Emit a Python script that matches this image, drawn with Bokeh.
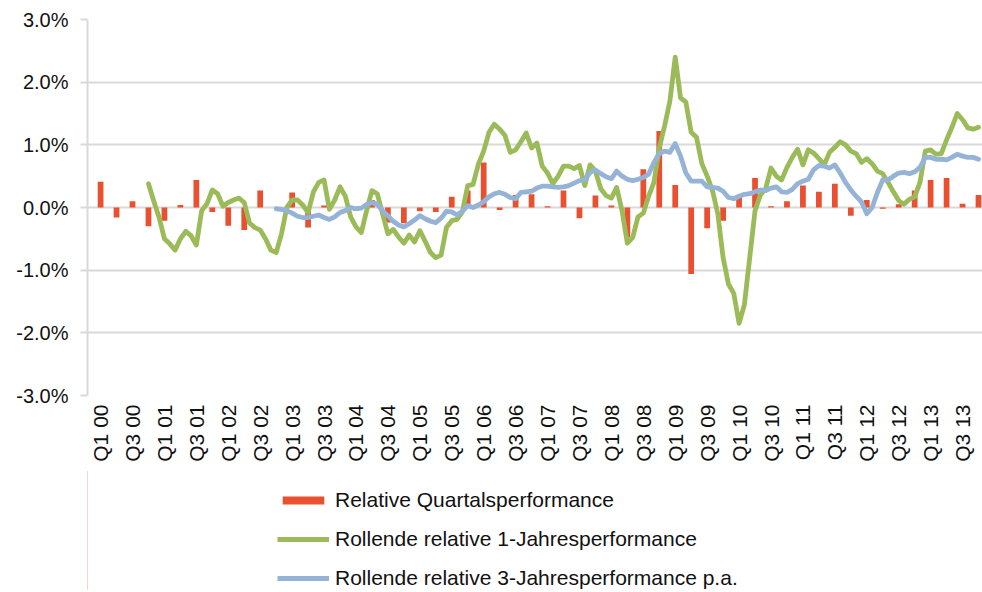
import math
from bokeh.plotting import figure
from bokeh.layouts import column
from bokeh.models import (FixedTicker, Legend, LegendItem, Range1d)
from bokeh.embed import file_html
from bokeh.resources import INLINE

# ---------------- data ----------------
years = ["00", "01", "02", "03", "04", "05", "06", "07", "08", "09", "10", "11", "12", "13"]
quarters = [f"Q{q} {y}" for y in years for q in (1, 2, 3, 4)]

# relative quarterly performance (%)
quarter_perf = [
    0.41, -0.16, 0.10, -0.30,
    -0.21, 0.04, 0.44, -0.07,
    -0.29, -0.36, 0.27, 0.00,
    0.24, -0.32, 0.03, 0.00,
    -0.05, 0.12, -0.24, -0.25,
    -0.06, -0.07, 0.17, 0.27,
    0.72, -0.04, 0.20, 0.21,
    0.02, 0.27, -0.17, 0.19,
    0.03, -0.48, 0.61, 1.22,
    0.36, -1.06, -0.33, -0.21,
    0.16, 0.47, 0.02, 0.10,
    0.35, 0.25, 0.38, -0.13,
    0.12, -0.02, 0.05, 0.27,
    0.44, 0.47, 0.06, 0.20,
]

# rolling relative 1-year performance (%), monthly, starting Q4 00
rolling_1y = [
    0.38, 0.10, -0.16, -0.50, -0.58, -0.68, -0.50, -0.38, -0.45, -0.60,
    -0.05, 0.06, 0.28, 0.22, 0.02, 0.08, 0.12, 0.15, 0.08, -0.25,
    -0.32, -0.36, -0.50, -0.68, -0.72, -0.42, 0.00, 0.12, 0.12, 0.04,
    -0.08, 0.25, 0.40, 0.44, -0.03, 0.12, 0.33, 0.18, -0.15, -0.31,
    -0.40, -0.05, 0.27, 0.22, -0.10, -0.42, -0.35, -0.47, -0.57, -0.44,
    -0.55, -0.37, -0.54, -0.72, -0.80, -0.76, -0.32, -0.21, -0.19, -0.07,
    0.35, 0.37, 0.69, 0.90, 1.20, 1.33, 1.25, 1.15, 0.88, 0.92,
    1.05, 1.19, 0.95, 1.03, 0.66, 0.55, 0.38, 0.50, 0.66, 0.66,
    0.62, 0.67, 0.35, 0.68, 0.58, 0.30, 0.19, 0.15, 0.32, -0.05,
    -0.57, -0.48, -0.15, -0.09, 0.18, 0.40, 0.95, 1.30, 1.70, 2.40,
    1.75, 1.68, 1.20, 1.12, 0.70, 0.50, 0.27, -0.10, -0.80, -1.22,
    -1.37, -1.85, -1.55, -0.80, -0.05, 0.20, 0.30, 0.63, 0.50, 0.44,
    0.64, 0.80, 0.93, 0.68, 0.92, 0.87, 0.78, 0.68, 0.88, 0.96,
    1.05, 1.00, 0.90, 0.86, 0.72, 0.78, 0.70, 0.58, 0.54, 0.40,
    0.25, 0.11, 0.05, 0.13, 0.17, 0.40, 0.90, 0.92, 0.85, 0.86,
    1.08, 1.28, 1.50, 1.40, 1.27, 1.25, 1.28,
]

# rolling relative 3-year performance p.a. (%), monthly, starting Q4 02
rolling_3y = [
    -0.02, -0.03, -0.05, -0.09, -0.14, -0.16, -0.16, -0.14, -0.12, -0.16,
    -0.19, -0.15, -0.08, -0.05, 0.00, -0.02, -0.01, 0.05, 0.08, 0.05,
    -0.05, -0.13, -0.22, -0.28, -0.31, -0.26, -0.20, -0.13, -0.18, -0.22,
    -0.24, -0.17, -0.06, -0.07, -0.12, -0.06, 0.03, 0.00, 0.04, 0.09,
    0.17, 0.22, 0.24, 0.21, 0.16, 0.14, 0.24, 0.25, 0.26, 0.31,
    0.34, 0.34, 0.33, 0.32, 0.33, 0.35, 0.39, 0.43, 0.44, 0.56,
    0.60, 0.54, 0.49, 0.46, 0.58, 0.50, 0.45, 0.43, 0.45, 0.48,
    0.53, 0.72, 0.86, 0.90, 0.88, 1.02, 0.82, 0.55, 0.42, 0.42,
    0.42, 0.33, 0.32, 0.31, 0.26, 0.16, 0.14, 0.18, 0.21, 0.22,
    0.25, 0.28, 0.27, 0.31, 0.33, 0.25, 0.24, 0.29, 0.38, 0.42,
    0.45, 0.60, 0.67, 0.66, 0.63, 0.68, 0.55, 0.40, 0.28, 0.18,
    0.09, -0.10, 0.00, 0.24, 0.44, 0.44, 0.50, 0.55, 0.56, 0.54,
    0.57, 0.64, 0.80, 0.80, 0.77, 0.77, 0.76, 0.80, 0.85, 0.82,
    0.80, 0.80, 0.77,
]

series_names = ["Relative Quartalsperformance",
                "Rollende relative 1-Jahresperformance",
                "Rollende relative 3-Jahresperformance p.a."]

y_ticks = [-3, -2, -1, 0, 1, 2, 3]
y_tick_labels = ["-3.0%", "-2.0%", "-1.0%", "0.0%", "1.0%", "2.0%", "3.0%"]

start_1y_quarter = quarters.index("Q4 00")
start_3y_quarter = quarters.index("Q4 02")

# ---------------- positions ----------------
qx = list(range(len(quarters)))
x_1y = [start_1y_quarter + i / 3 for i in range(len(rolling_1y))]
x_3y = [start_3y_quarter + i / 3 for i in range(len(rolling_3y))]

FONT = "Liberation Sans"
RED = "#E9502F"
GREEN = "#9BBB59"
BLUE = "#95B3D7"
GRID = "#D9D9D9"
TXT = "#111111"
LW = 4.8

p = figure(width=982, height=470, output_backend="svg", toolbar_location=None,
           x_range=Range1d(-0.82, 55.25), y_range=Range1d(-3, 3),
           min_border_left=87, min_border_right=0, min_border_top=19,
           min_border_bottom=75)
p.outline_line_color = None
p.background_fill_color = "white"

bars = p.vbar(x=qx, top=quarter_perf, bottom=0, width=0.36,
              fill_color=RED, line_color=None)
g_line = p.line(x=x_1y, y=rolling_1y, line_color=GREEN, line_width=LW,
                line_join="round", line_cap="round")
b_line = p.line(x=x_3y, y=rolling_3y, line_color=BLUE, line_width=LW,
                line_join="round", line_cap="round")

# grid
p.xgrid.grid_line_color = None
p.ygrid.ticker = FixedTicker(ticks=y_ticks)
p.ygrid.grid_line_color = GRID
p.ygrid.grid_line_width = 2

# y axis
p.yaxis.ticker = FixedTicker(ticks=y_ticks)
p.yaxis.major_label_overrides = {t: l for t, l in zip(y_ticks, y_tick_labels)}
p.yaxis.axis_line_color = GRID
p.yaxis.axis_line_width = 2
p.yaxis.major_tick_line_color = GRID
p.yaxis.major_tick_line_width = 2
p.yaxis.major_tick_in = 0
p.yaxis.major_tick_out = 7
p.yaxis.minor_tick_line_color = None
p.yaxis.major_label_standoff = 12
p.yaxis.major_label_text_font = FONT
p.yaxis.major_label_text_font_size = "20px"
p.yaxis.major_label_text_color = TXT

# x axis
x_ticks = list(range(0, len(quarters), 2))
p.xaxis.ticker = FixedTicker(ticks=x_ticks)
p.xaxis.major_label_overrides = {t: quarters[t] for t in x_ticks}
p.xaxis.major_label_orientation = math.pi / 2
p.xaxis.axis_line_color = None
p.xaxis.major_tick_line_color = None
p.xaxis.minor_tick_line_color = None
p.xaxis.major_tick_out = 0
p.xaxis.major_tick_in = 0
p.xaxis.major_label_standoff = 9
p.xaxis.major_label_text_font = FONT
p.xaxis.major_label_text_font_size = "21px"
p.xaxis.major_label_text_color = TXT

# ---------------- legend (separate strip below, same left border as chart) ----------------
lg = figure(width=982, height=120, output_backend="svg", toolbar_location=None,
            x_range=Range1d(0, 1), y_range=Range1d(0, 1),
            x_axis_type=None, y_axis_type=None,
            min_border_left=87, min_border_right=0, min_border_top=0,
            min_border_bottom=0)
lg.center = []          # no grids in the legend strip
lg.outline_line_color = None
# swatch renderers: placed outside the visible range, used only by the legend
lr = lg.vbar(x=[-5], top=[1], width=0.5, fill_color=RED, line_color=None)
lgn = lg.line(x=[-5, -4], y=[0.5, 0.5], line_color=GREEN, line_width=LW)
lbl = lg.line(x=[-5, -4], y=[0.5, 0.5], line_color=BLUE, line_width=LW)

legend = Legend(items=[
    LegendItem(label=series_names[0], renderers=[lr]),
    LegendItem(label=series_names[1], renderers=[lgn]),
    LegendItem(label=series_names[2], renderers=[lbl]),
], orientation="vertical", location=(190, 0), glyph_width=52, glyph_height=10,
    label_standoff=6, spacing=15, padding=2, label_height=22,
    label_text_font=FONT, label_text_font_size="21px", label_text_color=TXT,
    border_line_color=None, background_fill_alpha=0, margin=0)
lg.add_layout(legend, "center")

layout = column(p, lg, spacing=0)
open("out.html", "w").write(file_html(layout, INLINE))
